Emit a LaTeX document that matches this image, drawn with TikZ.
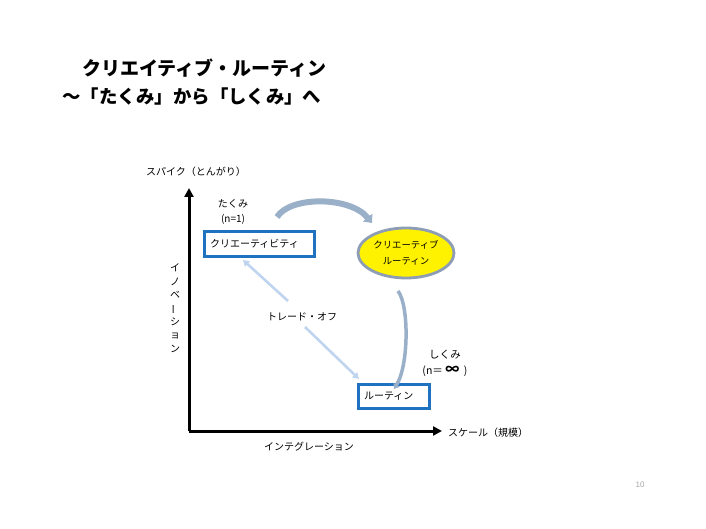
\documentclass[tikz,border=0pt]{standalone}
\usepackage{fontspec}
\setmainfont{Noto Sans CJK JP}
\newfontfamily\numfont{Liberation Sans}
\usetikzlibrary{arrows.meta,shapes.geometric}
\definecolor{boxblue}{HTML}{1F72C0}
\definecolor{arcgray}{HTML}{9AAFC8}
\definecolor{ellborder}{HTML}{8C9DB5}
\definecolor{tradeblue}{HTML}{BFD4EE}
\tikzset{
  lbl/.style={inner sep=0pt, font=\fontsize{10}{15}\selectfont, align=center},
  bluebox/.style={draw=boxblue, line width=3pt, fill=white, minimum height=24pt, inner xsep=6pt, inner ysep=0pt, align=left, font=\fontsize{10}{12}\selectfont},
  axis/.style={line width=3pt, -{Triangle[length=9pt,width=9pt]}},
  arcarrow/.style={draw=arcgray, -{Triangle[length=7pt,width=12pt]}},
  tradeoff/.style={draw=tradeblue, line width=2.6pt, -{Triangle[length=6pt,width=7pt]}},
  titlestyle/.style={inner sep=0pt, anchor=west, font=\fontsize{19}{22}\selectfont\bfseries}
}
\begin{document}
\begin{tikzpicture}[x=1pt,y=-1pt]
\useasboundingbox (0,0) rectangle (706,529);
% title
\node[titlestyle] (t1) at (82,68) {クリエイティブ・ルーティン};
\node[titlestyle, font=\fontsize{18.4}{22}\selectfont\bfseries] (t2) at (62,97) {～「たくみ」から「しくみ」へ};
% axes
\coordinate (O) at (189,431);
\coordinate (ytop) at (189,188);
\coordinate (xend) at (442,431);
\draw[axis] (O) -- (ytop);
\draw[axis] (O) -- (xend);
\node[lbl] (spike) at (196,172) {スパイク（とんがり）};
\node[lbl] (scale) at (488,433) {スケール（規模）};
\node[lbl] (integ) at (309,447) {インテグレーション};
\node[lbl, font=\fontsize{10}{13.4}\selectfont] (innov) at (175,308) {イ\\ノ\\ベ\\\rotatebox[origin=c]{90}{ー}\\シ\\ョ\\ン};
% boxes
\node[bluebox, text width=98pt] (creativity) at (259,244) {クリエーティビティ};
\node[bluebox, text width=59pt] (routine) at (393.5,396) {ルーティン};
\node[ellipse, draw=ellborder, line width=2.8pt, fill=yellow, minimum width=96pt, minimum height=50pt, inner sep=0pt, align=center, font=\fontsize{9.4}{16}\selectfont] (cr) at (406,253) {クリエーティブ\\ルーティン};
% labels
\node[lbl] (takumi) at (233,212) {たくみ\\(n=1)};
\node[lbl, font=\fontsize{10.5}{16}\selectfont] (shikumi) at (445,363) {しくみ\\(n＝ {\fontsize{14}{14}\selectfont\bfseries ∞}\ \ )};
\node[lbl] (trade) at (302,317) {トレード・オフ};
% curved arrows
\coordinate (a1s) at (277,217);
\coordinate (a1e) at (372,223);
\draw[arcarrow, line width=6pt] (a1s) .. controls (290,196) and (350,196) .. (a1e);
\coordinate (a2s) at (398,291);
\coordinate (a2e) at (394,389);
\draw[arcarrow, line width=3.5pt, -{Triangle[length=5pt,width=7pt]}] (a2s) .. controls (409,305) and (409,365) .. (a2e);
% trade-off arrows
\coordinate (u1) at (288,301);
\coordinate (u2) at (243,260);
\coordinate (d1) at (305,327);
\coordinate (d2) at (359,379);
\draw[tradeoff] (u1) -- (u2);
\draw[tradeoff] (d1) -- (d2);
% page number
\node[inner sep=0pt, text=gray!70, font=\numfont\fontsize{8}{10}\selectfont] (pg) at (640,485) {10};
\end{tikzpicture}
\end{document}
